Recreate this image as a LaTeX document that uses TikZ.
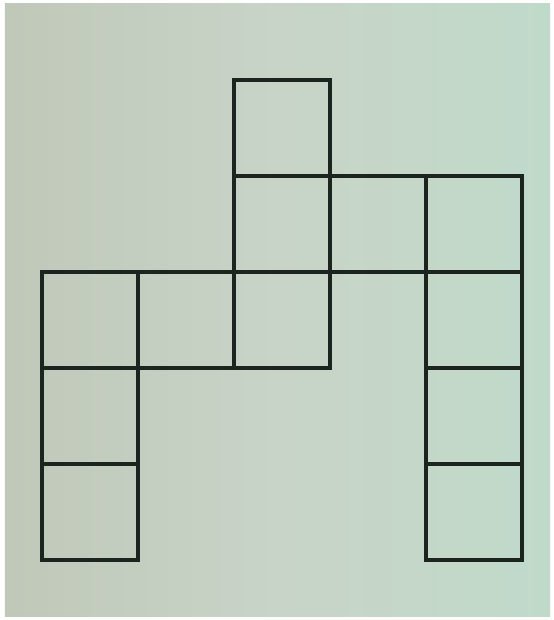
\documentclass[tikz,border=0pt]{standalone}
\usepackage{tikz}
\usetikzlibrary{positioning}

\definecolor{paper}{RGB}{200,212,200}
\definecolor{paperL}{RGB}{192,200,184}
\definecolor{paperR}{RGB}{192,218,202}
\definecolor{ink}{RGB}{28,36,32}

\tikzset{
  cell/.style={draw=ink, line width=2.1pt, line join=miter},
  photo/.style={left color=paperL, right color=paperR, middle color=paper}
}

\begin{document}
\begin{tikzpicture}[x=0.02cm, y=-0.02cm]
  % page and photo
  \useasboundingbox (0,0) rectangle (554,620);
  \fill[white] (0,0) rectangle (554,620);
  \shade[photo] (5,3) rectangle (550,616);

  % the twelve squares (column, row)
  \foreach \c/\r in {2/0, 2/1, 3/1, 4/1, 0/2, 1/2, 2/2, 4/2, 0/3, 4/3, 0/4, 4/4}
    \draw[cell] ({42+96*\c},{80+96*\r}) rectangle ++(96,96);
\end{tikzpicture}
\end{document}
